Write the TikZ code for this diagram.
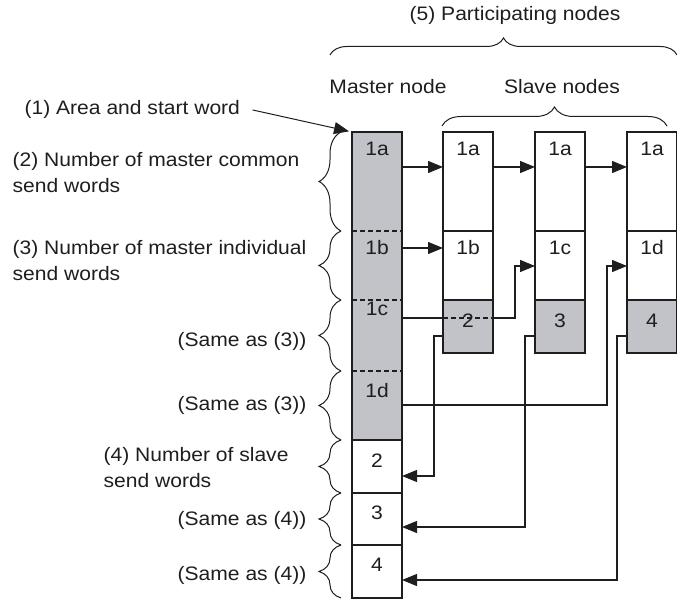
\documentclass[tikz,border=0pt]{standalone}
\usepackage{fontspec}
\setmainfont{Liberation Sans}[FakeStretch=1.08]
\usepackage{tikz}
\usetikzlibrary{arrows.meta}
\usetikzlibrary{positioning}
\usetikzlibrary{decorations.pathreplacing}

\definecolor{ink}{RGB}{30,30,30}
\definecolor{cellgray}{RGB}{193,195,201}
\newcommand{\figfont}{\fontsize{19.5}{26}\selectfont}

\begin{document}
\begin{tikzpicture}[x=1pt, y=-1pt, line width=1.2pt,
  every node/.style={font=\figfont, text=ink},
  cell/.style={draw=ink, minimum width=50pt, inner sep=0pt, outer sep=0pt,
    anchor=north west},
  tag/.style={inner sep=0pt, anchor=base},
  note/.style={inner sep=0pt, align=left},
  wire/.style={draw=ink},
  arr/.style={draw=ink, -{Triangle[length=15pt, width=12pt]}},
  brc/.style={draw=ink, line width=1pt, decorate,
    decoration={brace, amplitude=#1}}]
  \useasboundingbox (0,0) rectangle (677,601);
  % ---------- master node ----------
  \node[cell, draw=none, fill=cellgray, minimum height=99pt] (m1a) at (352,132) {};
  \node[cell, draw=none, fill=cellgray, minimum height=69pt, below=0pt of m1a] (m1b) {};
  \node[cell, draw=none, fill=cellgray, minimum height=71pt, below=0pt of m1b] (m1c) {};
  \node[cell, draw=none, fill=cellgray, minimum height=69pt, below=0pt of m1c] (m1d) {};
  \draw[ink] (m1a.north west) rectangle (m1d.south east);
  \draw[ink, dash pattern=on 5pt off 3pt] (m1a.south west) -- (m1a.south east);
  \draw[ink, dash pattern=on 5pt off 3pt] (m1b.south west) -- (m1b.south east);
  \draw[ink, dash pattern=on 5pt off 3pt] (m1c.south west) -- (m1c.south east);
  \node[cell, minimum height=53pt, below=0pt of m1d] (m2) {};
  \node[cell, minimum height=52pt, below=0pt of m2] (m3) {};
  \node[cell, minimum height=53pt, below=0pt of m3] (m4) {};
  \node[tag] (m1at) at ([yshift=-24pt]m1a.north) {1a};
  \node[tag] (m1bt) at ([yshift=-24pt]m1b.north) {1b};
  \node[tag] (m1ct) at ([yshift=-16pt]m1c.north) {1c};
  \node[tag] (m1dt) at ([yshift=-26pt]m1d.north) {1d};
  \node[tag] (m2t) at ([yshift=-27pt]m2.north) {2};
  \node[tag] (m3t) at ([yshift=-26pt]m3.north) {3};
  \node[tag] (m4t) at ([yshift=-26pt]m4.north) {4};
  % ---------- slave nodes ----------
  \node[cell, minimum height=99pt] (s1a) at (443,132) {};
  \node[cell, minimum height=69pt, below=0pt of s1a] (s1b) {};
  \node[cell, fill=cellgray, minimum height=53pt, below=0pt of s1b] (s1w) {};
  \node[cell, minimum height=99pt] (s2a) at (535,132) {};
  \node[cell, minimum height=69pt, below=0pt of s2a] (s2b) {};
  \node[cell, fill=cellgray, minimum height=53pt, below=0pt of s2b] (s2w) {};
  \node[cell, minimum height=99pt] (s3a) at (627,132) {};
  \node[cell, minimum height=69pt, below=0pt of s3a] (s3b) {};
  \node[cell, fill=cellgray, minimum height=53pt, below=0pt of s3b] (s3w) {};
  \node[tag] (s1at) at ([yshift=-24pt]s1a.north) {1a};
  \node[tag] (s2at) at ([yshift=-24pt]s2a.north) {1a};
  \node[tag] (s3at) at ([yshift=-24pt]s3a.north) {1a};
  \node[tag] (s1bt) at ([yshift=-24pt]s1b.north) {1b};
  \node[tag] (s2bt) at ([yshift=-24pt]s2b.north) {1c};
  \node[tag] (s3bt) at ([yshift=-24pt]s3b.north) {1d};
  \node[tag] (s1wt) at ([yshift=-27pt]s1w.north) {2};
  \node[tag] (s2wt) at ([yshift=-27pt]s2w.north) {3};
  \node[tag] (s3wt) at ([yshift=-27pt]s3w.north) {4};
  % ---------- transfers ----------
  \coordinate (p1) at ([yshift=-35pt]m1a.north east);
  \coordinate (p2) at ([yshift=-17pt]m1b.north east);
  \coordinate (p3) at ([yshift=-18pt]m1c.north east);
  \coordinate (p4) at ([yshift=-34pt]m1d.north east);
  \coordinate (q2) at ([yshift=-35pt]s2b.north west);
  \coordinate (q3) at ([yshift=-35pt]s3b.north west);
  \draw[arr] (p1) -- (p1 -| s1a.west);
  \draw[arr] (p1 -| s1a.east) -- (p1 -| s2a.west);
  \draw[arr] (p1 -| s2a.east) -- (p1 -| s3a.west);
  \draw[arr] (p2) -- (p2 -| s1b.west);
  \draw[wire] (p3) -- (p3 -| s1w.west);
  \draw[wire, dash pattern=on 5pt off 3pt] (p3 -| s1w.west) -- (p3 -| s1w.east);
  \draw[arr] (p3 -| s1w.east) -| ([xshift=-20pt]q2) -- (q2);
  \draw[arr] (p4) -| ([xshift=-20pt]q3) -- (q3);
  \coordinate (r1) at ([yshift=-36pt]s1w.north west);
  \coordinate (r2) at ([yshift=-36pt]s2w.north west);
  \coordinate (r3) at ([yshift=-36pt]s3w.north west);
  \draw[arr] (r1) -- ([xshift=-9pt]r1) |- ([yshift=-36pt]m2.north east);
  \draw[arr] (r2) -- ([xshift=-10pt]r2) |- ([yshift=-34pt]m3.north east);
  \draw[arr] (r3) -- ([xshift=-10pt]r3) |- ([yshift=-35pt]m4.north east);
  % ---------- headings ----------
  \node[note, anchor=base] (part) at (515,21) {(5) Participating nodes};
  \node[note, anchor=base] (mast) at (388,94) {Master node};
  \node[note, anchor=base] (slav) at (562,94) {Slave nodes};
  \draw[brc=17] (330,55) -- (677,55);
  \draw[brc=19] ([shift={(-1pt,6pt)}]s1a.north west) -- ([shift={(40pt,6pt)}]s3a.north west);
  % ---------- left notes ----------
  \node[note, anchor=base west] (area) at (24,115) {(1) Area and start word};
  \draw[arr, line width=1pt, shorten >=3pt] ([xshift=12pt]area.east) -- (m1a.north west);
  \node[note, anchor=base west] (comm) at (12,193) {(2) Number of master common\\send words};
  \node[note, anchor=base west] (indv) at (12,281) {(3) Number of master individual\\send words};
  \node[note, anchor=base east] (same3a) at (307,346) {(Same as (3))};
  \node[note, anchor=base east] (same3b) at (307,410) {(Same as (3))};
  \node[note, anchor=base west] (slvw) at (103,487) {(4) Number of slave\\send words};
  \node[note, anchor=base east] (same4a) at (307,525) {(Same as (4))};
  \node[note, anchor=base east] (same4b) at (307,580) {(Same as (4))};
  \draw[brc=22] ([xshift=-11pt]m1a.south west) -- ([xshift=-11pt]m1a.north west);
  \draw[brc=22] ([xshift=-11pt]m1b.south west) -- ([xshift=-11pt]m1b.north west);
  \draw[brc=22] ([xshift=-11pt]m1c.south west) -- ([xshift=-11pt]m1c.north west);
  \draw[brc=22] ([xshift=-11pt]m1d.south west) -- ([xshift=-11pt]m1d.north west);
  \draw[brc=22] ([xshift=-11pt]m2.south west) -- ([xshift=-11pt]m2.north west);
  \draw[brc=22] ([xshift=-11pt]m3.south west) -- ([xshift=-11pt]m3.north west);
  \draw[brc=22] ([xshift=-11pt]m4.south west) -- ([xshift=-11pt]m4.north west);
\end{tikzpicture}
\end{document}
